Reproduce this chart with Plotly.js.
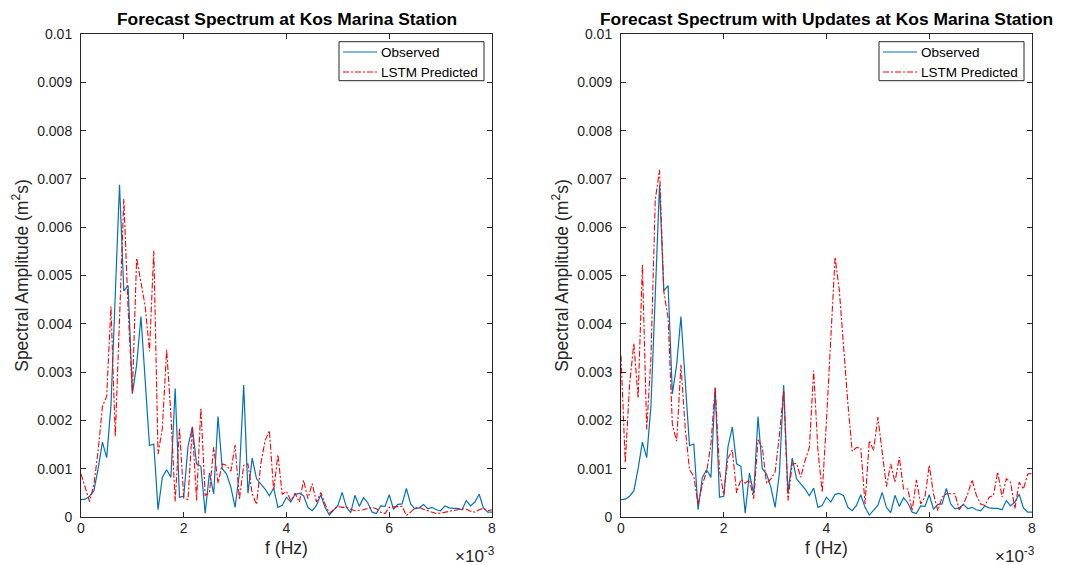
<!DOCTYPE html>
<html><head><meta charset="utf-8">
<script src="https://cdn.plot.ly/plotly-3.0.1.min.js"></script>
<style>body{margin:0;background:#fff}#chart{width:1071px;height:565px}</style>
</head><body><div id="chart"></div>
<script>
// frequency in units of 10^-3 Hz (axis multiplier shown as x10^-3)
const freqE3 = [0,0.083,0.167,0.25,0.333,0.417,0.5,0.583,0.667,0.75,0.833,0.917,
 1,1.083,1.167,1.25,1.333,1.417,1.5,1.583,1.667,1.75,1.833,1.917,
 2,2.083,2.167,2.25,2.333,2.417,2.5,2.583,2.667,2.75,2.833,2.917,
 3,3.083,3.167,3.25,3.333,3.417,3.5,3.583,3.667,3.75,3.833,3.917,
 4,4.083,4.167,4.25,4.333,4.417,4.5,4.583,4.667,4.75,4.833,4.917,
 5,5.083,5.167,5.25,5.333,5.417,5.5,5.583,5.667,5.75,5.833,5.917,
 6,6.083,6.167,6.25,6.333,6.417,6.5,6.583,6.667,6.75,6.833,6.917,
 7,7.083,7.167,7.25,7.333,7.417,7.5,7.583,7.667,7.75,7.833,7.917,8];

const observed = [0.36e-3,0.37e-3,0.43e-3,0.54e-3,1.0e-3,1.55e-3,1.23e-3,2.3e-3,4.6e-3,6.88e-3,
 4.68e-3,4.79e-3,2.55e-3,3.15e-3,4.15e-3,2.8e-3,1.48e-3,1.51e-3,0.15e-3,0.82e-3,
 0.98e-3,0.82e-3,2.66e-3,0.41e-3,0.43e-3,1.46e-3,1.86e-3,1.10e-3,1.05e-3,0.08e-3,
 0.91e-3,0.48e-3,2.08e-3,1.0e-3,0.89e-3,0.62e-3,0.2e-3,0.9e-3,2.73e-3,0.49e-3,
 1.22e-3,0.79e-3,0.69e-3,0.58e-3,0.44e-3,0.6e-3,0.2e-3,0.24e-3,0.41e-3,0.31e-3,
 0.47e-3,0.49e-3,0.44e-3,0.2e-3,0.13e-3,0.24e-3,0.46e-3,0.2e-3,0.04e-3,0.13e-3,
 0.24e-3,0.51e-3,0.2e-3,0.09e-3,0.45e-3,0.22e-3,0.4e-3,0.29e-3,0.1e-3,0.07e-3,
 0.23e-3,0.22e-3,0.46e-3,0.16e-3,0.26e-3,0.27e-3,0.59e-3,0.27e-3,0.17e-3,0.19e-3,
 0.26e-3,0.17e-3,0.2e-3,0.15e-3,0.13e-3,0.23e-3,0.19e-3,0.18e-3,0.18e-3,0.15e-3,
 0.34e-3,0.23e-3,0.31e-3,0.47e-3,0.19e-3,0.1e-3,0.1e-3];

const lstmForecast = [0.89e-3,0.6e-3,0.32e-3,0.67e-3,1.36e-3,2.29e-3,2.5e-3,4.36e-3,1.67e-3,4.1e-3,
 6.59e-3,4.3e-3,2.57e-3,5.36e-3,4.88e-3,4.36e-3,3.43e-3,5.51e-3,1.3e-3,1.84e-3,
 3.46e-3,2.12e-3,0.32e-3,1.84e-3,0.39e-3,0.36e-3,1.88e-3,0.34e-3,2.26e-3,0.45e-3,
 0.5e-3,1.45e-3,0.7e-3,1.1e-3,1.07e-3,0.95e-3,1.49e-3,0.36e-3,1.07e-3,1.1e-3,
 0.48e-3,0.26e-3,1.1e-3,1.58e-3,1.79e-3,0.55e-3,1.29e-3,0.47e-3,0.53e-3,0.34e-3,
 0.49e-3,0.31e-3,0.76e-3,0.38e-3,0.69e-3,0.31e-3,0.51e-3,0.27e-3,0.08e-3,0.15e-3,
 0.22e-3,0.2e-3,0.2e-3,0.16e-3,0.13e-3,0.14e-3,0.15e-3,0.18e-3,0.2e-3,0.17e-3,
 0.1e-3,0.07e-3,0.2e-3,0.21e-3,0.22e-3,0.22e-3,0.03e-3,0.1e-3,0.19e-3,0.2e-3,
 0.16e-3,0.13e-3,0.09e-3,0.07e-3,0.08e-3,0.1e-3,0.12e-3,0.13e-3,0.15e-3,0.17e-3,
 0.16e-3,0.12e-3,0.1e-3,0.15e-3,0.18e-3,0.13e-3,0.15e-3];

const lstmUpdated = [3.34e-3,1.12e-3,2.74e-3,3.6e-3,2.46e-3,5.22e-3,1.81e-3,3.3e-3,6.57e-3,7.19e-3,
 4.67e-3,4.12e-3,1.91e-3,1.57e-3,3.15e-3,1.84e-3,0.98e-3,0.84e-3,0.26e-3,0.67e-3,
 0.94e-3,1.5e-3,2.7e-3,0.96e-3,0.46e-3,1.22e-3,1.39e-3,0.5e-3,0.78e-3,0.7e-3,
 0.77e-3,0.38e-3,1.6e-3,1.44e-3,0.69e-3,0.79e-3,0.93e-3,1.69e-3,2.62e-3,0.34e-3,
 1.1e-3,1.11e-3,0.82e-3,1.17e-3,1.44e-3,3.03e-3,1.38e-3,0.51e-3,2.0e-3,3.72e-3,
 5.38e-3,4.69e-3,3.51e-3,2.34e-3,1.36e-3,1.44e-3,1.43e-3,0.27e-3,1.58e-3,1.38e-3,
 2.07e-3,1.3e-3,0.63e-3,1.1e-3,0.72e-3,1.24e-3,0.58e-3,0.58e-3,0.13e-3,0.77e-3,
 0.27e-3,0.41e-3,1.07e-3,0.48e-3,0.13e-3,0.41e-3,0.48e-3,0.48e-3,0.48e-3,0.15e-3,
 0.27e-3,0.48e-3,0.77e-3,0.45e-3,0.27e-3,0.24e-3,0.41e-3,0.45e-3,0.93e-3,0.41e-3,
 0.79e-3,0.72e-3,0.17e-3,0.72e-3,0.58e-3,0.89e-3,0.9e-3];

const xTickVals = [0,2,4,6,8];
const xTickText = ['0','2','4','6','8'];
const yTickVals = [0,0.001,0.002,0.003,0.004,0.005,0.006,0.007,0.008,0.009,0.01];
const yTickText = ['0','0.001','0.002','0.003','0.004','0.005','0.006','0.007','0.008','0.009','0.01'];
const titles = ['Forecast Spectrum at Kos Marina Station','Forecast Spectrum with Updates at Kos Marina Station'];
const seriesNames = ['Observed','LSTM Predicted'];

const FONT = 'Liberation Sans, Arial, Helvetica, sans-serif';
const AX = '#262626';
const BLUE = '#0072BD', RED = '#FF0000';
const redDash = '6px,2px,2px,2px';
const blueLine = {color:BLUE, width:1.2};
const redLine = {color:RED, width:1.1, dash:redDash};

const traces = [
  {x: freqE3, y: observed, type:'scatter', mode:'lines', name: seriesNames[0], line:blueLine, xaxis:'x', yaxis:'y'},
  {x: freqE3, y: lstmForecast, type:'scatter', mode:'lines', name: seriesNames[1], line:redLine, xaxis:'x', yaxis:'y'},
  {x: freqE3, y: observed, type:'scatter', mode:'lines', name: seriesNames[0], line:blueLine, xaxis:'x2', yaxis:'y2'},
  {x: freqE3, y: lstmUpdated, type:'scatter', mode:'lines', name: seriesNames[1], line:redLine, xaxis:'x2', yaxis:'y2'}
];

const W = 1071, H = 565;
const px = v => v / W, py = v => (H - v) / H;
const xd1 = [px(81), px(492)], xd2 = [px(621), px(1032)];
const yd = [py(517), py(34)];

function xax(domain, anchor){
  return {domain, anchor, range:[0,8], tickvals:xTickVals, ticktext:xTickText,
    ticks:'inside', ticklen:5, tickcolor:AX, showline:true, linecolor:AX, linewidth:1, mirror:'ticks',
    showgrid:false, zeroline:false, tickfont:{family:FONT, size:14, color:AX}, ticklabelstandoff:-2,
    title:{text:'f (Hz)', font:{family:FONT, size:17.5, color:AX}, standoff:6}};
}
function yax(anchor){
  return {domain:yd, anchor, range:[0,0.01], tickvals:yTickVals, ticktext:yTickText,
    ticks:'inside', ticklen:5, tickcolor:AX, showline:true, linecolor:AX, linewidth:1, mirror:'ticks',
    showgrid:false, zeroline:false, tickfont:{family:FONT, size:14, color:AX}, ticklabelstandoff:5,
    title:{text:'Spectral Amplitude (m<sup>2</sup>s)', font:{family:FONT, size:17.5, color:AX}, standoff:4}};
}

// legend boxes drawn per panel (MATLAB-style compact legend)
const legendBoxes = [{x0:339, x1:484}, {x0:879, x1:1024}];
const legTop = 41.7, legBottom = 80.7, legRows = [52, 72];
const shapes = [], annotations = [];
legendBoxes.forEach(b => {
  shapes.push({type:'rect', xref:'paper', yref:'paper', x0:px(b.x0), x1:px(b.x1), y0:py(legBottom), y1:py(legTop),
    line:{color:AX, width:1}, fillcolor:'#fff', layer:'above'});
  shapes.push({type:'line', xref:'paper', yref:'paper', x0:px(b.x0+4), x1:px(b.x0+38), y0:py(legRows[0]), y1:py(legRows[0]), line:blueLine, layer:'above'});
  shapes.push({type:'line', xref:'paper', yref:'paper', x0:px(b.x0+4), x1:px(b.x0+38), y0:py(legRows[1]), y1:py(legRows[1]), line:redLine, layer:'above'});
  seriesNames.forEach((n, k) => annotations.push({text:n, xref:'paper', yref:'paper', x:px(b.x0+40), y:py(legRows[k]),
    xanchor:'left', yanchor:'middle', showarrow:false, font:{family:FONT, size:13.5, color:'#000'}}));
});
[xd1, xd2].forEach((d, k) => {
  annotations.push({text:'<b>'+titles[k]+'</b>', xref:'paper', yref:'paper', x:(d[0]+d[1])/2, y:py(19),
    xanchor:'center', yanchor:'middle', showarrow:false, font:{family:FONT, size:17.4, color:'#000'}});
  annotations.push({text:'×10<sup>-3</sup>', xref:'paper', yref:'paper', x:d[1]+px(5), y:py(555),
    xanchor:'right', yanchor:'middle', showarrow:false, font:{family:FONT, size:17, color:AX}});
});

const layout = {
  width:W, height:H, margin:{l:0,r:0,t:0,b:0}, paper_bgcolor:'#fff', plot_bgcolor:'#fff',
  font:{family:FONT}, showlegend:false,
  xaxis: xax(xd1,'y'), yaxis: yax('x'),
  xaxis2: xax(xd2,'y2'), yaxis2: yax('x2'),
  shapes, annotations
};
Plotly.newPlot('chart', traces, layout, {displayModeBar:false, staticPlot:true});
</script>
</body></html>
